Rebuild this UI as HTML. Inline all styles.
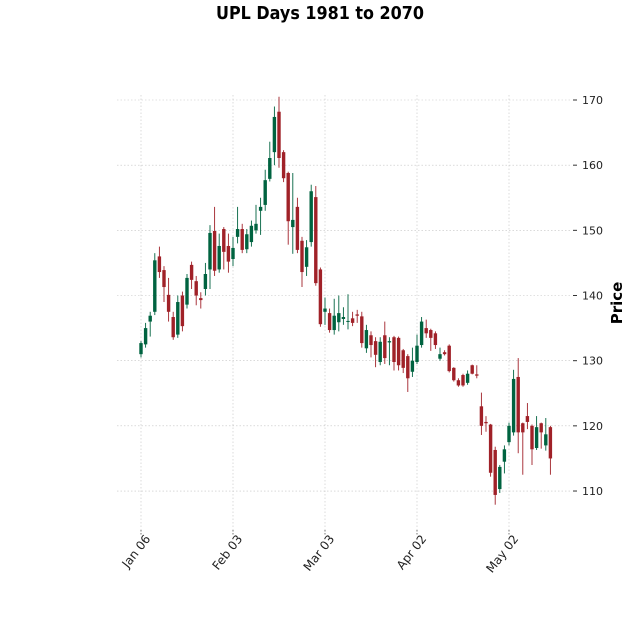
<!DOCTYPE html>
<html><head><meta charset="utf-8"><style>
body{margin:0;background:#fff}
svg{display:block;font-family:"DejaVu Sans","Liberation Sans",sans-serif}
</style></head><body>
<svg id="chart" width="640" height="640" viewBox="0 0 640 640">
<text x="320" y="19" text-anchor="middle" font-size="18" font-weight="bold" textLength="208" lengthAdjust="spacingAndGlyphs">UPL Days 1981 to 2070</text>
<text transform="translate(622,303) rotate(-90)" text-anchor="middle" font-size="15" font-weight="bold">Price</text>
<g id="grid"></g><g id="axes"></g><g id="candles"></g>
</svg>
<script>
const opens=[131,132.5,136,137.5,146,143.9,140.1,136.7,134,140,138.6,144.7,142.2,139.6,141,144,149.9,144,150.2,147.6,145.6,149,150.2,147.1,148.2,150,153,153.9,157.9,162,168.2,162,158.8,150.5,153.6,148.4,144.4,148.2,155.1,144,137.5,137.3,134.7,135.9,136.4,136,136.5,137.1,136.8,131.9,133.9,133,129.8,133.9,132.8,133.6,133.5,131.6,130.7,128.3,129.8,132.4,135,134.7,134.2,130.3,131.3,132.3,128.9,127,127.8,126.6,129.3,127.9,123,120.6,120.2,116.3,110.3,114.5,117.5,119,127.5,120.4,121.5,120,116.6,120.4,117,119.8];
const highs=[133,135.8,137.5,146.5,147.5,144.5,142.7,137.5,140,140.6,143.3,145.2,143,140.5,145,150.8,153.6,149.5,150.5,149.5,149,153.6,151,150.2,151.5,153.9,155,159.3,163.6,169,170.5,162.3,159,158.8,155,149,148.5,157,156.8,144.3,139.7,138,139.5,140,138.2,140.2,137.5,137.8,137.5,135.5,134.5,133.6,133.6,136,133.6,133.8,133.7,131.8,131,132,134,136.7,136.3,134.9,134.5,132,131.6,132.5,129,127.3,128,128.5,129.4,129.3,125.1,121.5,120.3,116.8,114,117,120.5,128.6,130.4,120.5,123.5,120.2,121.5,120.5,121.2,120];
const lows=[130.5,132,133.7,137,142.7,139,136,133.2,133.5,134.5,138,141,138.5,138,140,141,143,143.5,144,143.5,144.5,148,146.5,146.5,147.5,149.5,149.3,153,157.5,160,159.6,157.4,147.8,146.4,146.5,141.3,143,147.5,141.5,135.2,135.5,134.3,134,134.5,135.5,134.8,135.3,135.8,132,131.2,130.5,129,129.3,129.5,129.3,128.5,128.5,128.1,125.2,127.5,129.5,132,133.5,131.5,131.8,130,130.8,128.2,126.8,126,126,126.3,127.9,127.3,118.6,119.1,112.2,107.9,109.7,112.7,117,118.5,115.8,112.5,119.5,114,116.3,116.5,116.2,112.5];
const closes=[132.7,135,136.9,145.4,143.6,141.3,137.5,133.6,139,135.3,142.7,142.4,140,139.3,143.3,149.6,143.8,147.6,146.7,145.2,147.3,150.2,147,149.4,150.7,151,153.6,157.7,161.1,167.4,161.1,158,151.4,151.6,147,143.6,147.4,156,141.9,135.6,138,134.7,136.9,137.3,136.7,136.1,135.8,136.9,132.7,134.7,132.4,130.9,132.9,130.4,133,129.8,129.3,128.9,127.3,130,132.3,136,134.2,133.5,132.4,131,131,128.4,127,126.2,126.2,128,128,127.7,120,120.4,112.8,109.4,113.7,116.4,120,127.2,119,119,120.6,116.4,119.8,119,118.7,115];
const yTicks=[110,120,130,140,150,160,170];
const xTickIdx=[0,20,40,60,80];
const xTickLabels=["Jan 06","Feb 03","Mar 03","Apr 02","May 02"];

const NS="http://www.w3.org/2000/svg";
const L=117,R=572,T=95,B=530;
const yScale=p=>100+(170-p)*6.517;
const xScale=i=>141+i*4.6;
function mk(tag,attrs,parent){const e=document.createElementNS(NS,tag);for(const k in attrs)e.setAttribute(k,attrs[k]);parent.appendChild(e);return e;}
const grid=document.getElementById('grid'),axes=document.getElementById('axes'),cg=document.getElementById('candles');
yTicks.forEach(v=>{
  const y=yScale(v);
  const g=mk('line',{x1:L,x2:R,y1:y,y2:y,stroke:'#c4c4c4','stroke-width':0.6,'stroke-dasharray':'1.5,2'},grid);
  
  
  const t=mk('line',{x1:R+1,x2:R+5,y1:y,y2:y,stroke:'#333','stroke-width':1},axes);
  
  
  const tx=mk('text',{x:R+10,y:y+4,'font-size':11,fill:'#222'},axes);
  tx.textContent=v;
  
  
});
xTickIdx.forEach((idx,k)=>{
  const x=xScale(idx);
  const g=mk('line',{x1:x,x2:x,y1:T,y2:B,stroke:'#c4c4c4','stroke-width':0.6,'stroke-dasharray':'1.5,2'},grid);
  
  
  const t=mk('line',{x1:x,x2:x,y1:B,y2:B+5,stroke:'#555','stroke-width':0.8,'stroke-dasharray':'1.5,1.5'},axes);
  
  
  const tx=mk('text',{x:0,y:0,'font-size':12,fill:'#222','text-anchor':'end',transform:`translate(${x+10},${B+9}) rotate(-52)`},axes);
  tx.textContent=xTickLabels[k];
  
  
});
opens.forEach((o,i)=>{
  const c=closes[i],up=c>=o,col=up?'#006340':'#a02128';
  const x=xScale(i);
  const w=mk('line',{x1:x,x2:x,y1:yScale(highs[i]),y2:yScale(lows[i]),stroke:col,'stroke-width':0.9},cg);
  
  
  const yt=yScale(Math.max(o,c)),yb=yScale(Math.min(o,c));
  const r=mk('rect',{x:x-1.7,y:yt,width:3.4,height:Math.max(1,yb-yt),fill:col},cg);
  
  
});
</script>
</body></html>
